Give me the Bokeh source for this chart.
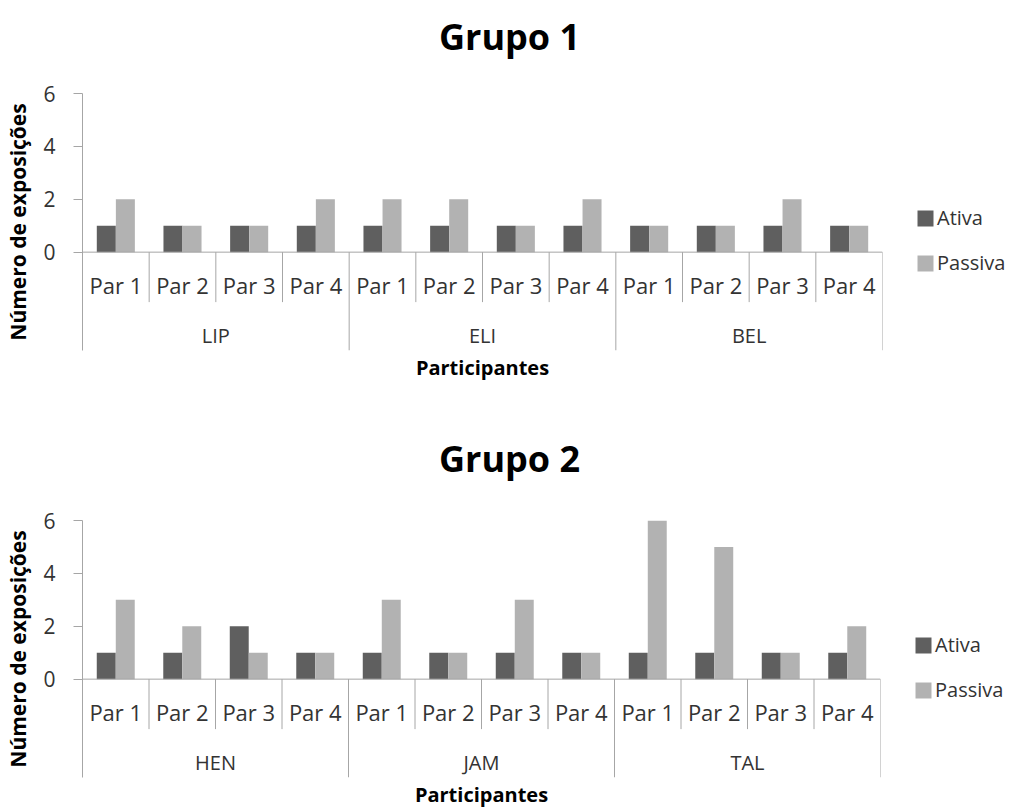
from bokeh.plotting import figure
from bokeh.layouts import column
from bokeh.models import (ColumnDataSource, FactorRange, Range1d, FixedTicker,
                          Span, Legend, LegendItem, Label, Title)
from bokeh.transform import dodge
from bokeh.core.properties import value
from bokeh.embed import file_html
from bokeh.resources import INLINE

# Pairs shown for each participant
pares = ["Par 1", "Par 2", "Par 3", "Par 4"]

# Grupo 1
grupo1_participantes = ["LIP", "ELI", "BEL"]
grupo1_ativa = [1, 1, 1, 1, 1, 1, 1, 1, 1, 1, 1, 1]
grupo1_passiva = [2, 1, 1, 2, 2, 2, 1, 2, 1, 1, 2, 1]

# Grupo 2
grupo2_participantes = ["HEN", "JAM", "TAL"]
grupo2_ativa = [1, 1, 2, 1, 1, 1, 1, 1, 1, 1, 1, 1]
grupo2_passiva = [3, 2, 1, 1, 3, 1, 3, 1, 6, 5, 1, 2]

FONT = "Open Sans"
DARK = "#5f5f5f"
LIGHT = "#b2b2b2"
AXIS = "#a6a6a6"
TEXT = "#333333"
Y_MIN = -3.72
PAR_SEP = -1.89
LEFT_EDGE = 80
RIGHT_EDGE = 880
FRAME_H = 257
WIDTH = 1016
TITLE_CENTER_X = 507


def title_band(titulo, height, center_from_bottom):
    """A thin strip above each chart that carries its heading.

    Its frame lines up with the chart frame below it, so x is measured
    from the chart's left edge."""
    t = figure(frame_width=RIGHT_EDGE - LEFT_EDGE, frame_height=height,
               output_backend="svg", toolbar_location=None,
               x_range=Range1d(0, 1), y_range=Range1d(0, 1),
               min_border_left=LEFT_EDGE, min_border_right=WIDTH - RIGHT_EDGE,
               min_border_top=0, min_border_bottom=0)
    t.axis.visible = False
    t.grid.visible = False
    t.outline_line_color = None
    t.add_layout(Label(x=TITLE_CENTER_X - LEFT_EDGE, y=center_from_bottom,
                       x_units="screen", y_units="screen", text=titulo,
                       text_align="center", text_baseline="middle",
                       text_font=FONT, text_font_size="36px",
                       text_font_style="bold", text_color="black"))
    return t


def build(participantes, ativa, passiva, top, bottom, left):
    factors = [(g, par) for g in participantes for par in pares]
    src = ColumnDataSource(dict(x=factors, ativa=ativa, passiva=passiva))

    p = figure(frame_width=RIGHT_EDGE - left, frame_height=FRAME_H,
               output_backend="svg", toolbar_location=None,
               x_range=FactorRange(*factors, group_padding=0, factor_padding=0,
                                   subgroup_padding=0, range_padding=0),
               y_range=Range1d(Y_MIN, 6),
               min_border_left=left, min_border_right=WIDTH - RIGHT_EDGE,
               min_border_top=top, min_border_bottom=bottom)
    p.outline_line_color = None
    p.grid.visible = False
    p.xaxis.visible = False
    p.background_fill_color = "white"

    # bars
    r_a = p.vbar(x=dodge("x", -0.143, range=p.x_range), top="ativa", width=0.285,
                 source=src, fill_color=DARK, line_color=None)
    r_p = p.vbar(x=dodge("x", 0.143, range=p.x_range), top="passiva", width=0.285,
                 source=src, fill_color=LIGHT, line_color=None)

    # category table under the zero line
    p.add_layout(Span(location=0, dimension="width", line_color=AXIS, line_width=1))
    inner = [(g, par, -0.5) for g in participantes for par in pares[1:]]
    p.segment(x0=inner, x1=inner, y0=0, y1=PAR_SEP, line_color=AXIS, line_width=1)
    outer = [(g, pares[0], -0.5) for g in participantes[1:]] + \
            [(participantes[-1], pares[-1], 0.5)]
    p.segment(x0=outer, x1=outer, y0=0, y1=Y_MIN, line_color=AXIS, line_width=1)

    p.text(x=factors, y=0, text=[par for _, par in factors], y_offset=33,
           text_align="center", text_baseline="middle", text_font=value(FONT),
           text_font_size="22px", text_color=TEXT)
    p.text(x=participantes, y=0, text=participantes, y_offset=83,
           text_align="center", text_baseline="middle", text_font=value(FONT),
           text_font_size="20px", text_color=TEXT)

    # y axis
    ax = p.yaxis[0]
    ax.ticker = FixedTicker(ticks=[0, 2, 4, 6])
    ax.axis_line_color = AXIS
    ax.major_tick_line_color = AXIS
    ax.major_tick_out = 9
    ax.major_tick_in = 0
    ax.minor_tick_line_color = None
    ax.major_label_text_font = FONT
    ax.major_label_text_font_size = "21px"
    ax.major_label_text_color = TEXT
    ax.major_label_standoff = 18
    ax.axis_label = "Número de exposições"
    ax.axis_label_text_font = FONT
    ax.axis_label_text_font_size = "21px"
    ax.axis_label_text_font_style = "bold"
    ax.axis_label_text_color = "black"
    ax.axis_label_standoff = 8

    p.add_layout(Title(text="Participantes", align="center", standoff=2,
                       text_font=FONT, text_font_size="20px",
                       text_font_style="bold", text_color="black"), "below")

    legend = Legend(items=[LegendItem(label="Ativa", renderers=[r_a]),
                           LegendItem(label="Passiva", renderers=[r_p])],
                    location=(33, 74), orientation="vertical",
                    border_line_color=None, background_fill_alpha=0,
                    margin=0, padding=5, spacing=18,
                    glyph_width=20, glyph_height=20, label_height=22,
                    label_standoff=2, label_text_font=FONT,
                    label_text_font_size="20px", label_text_color=TEXT)
    p.add_layout(legend, "right")
    return p


t1 = title_band("Grupo 1", 70, 34)
p1 = build(grupo1_participantes, grupo1_ativa, grupo1_passiva, 23, 54, LEFT_EDGE)
t2 = title_band("Grupo 2", 80, 26)
p2 = build(grupo2_participantes, grupo2_ativa, grupo2_passiva, 36, 32, LEFT_EDGE + 2)

page = column(t1, p1, t2, p2, spacing=0)
open("out.html", "w").write(file_html(page, INLINE))
